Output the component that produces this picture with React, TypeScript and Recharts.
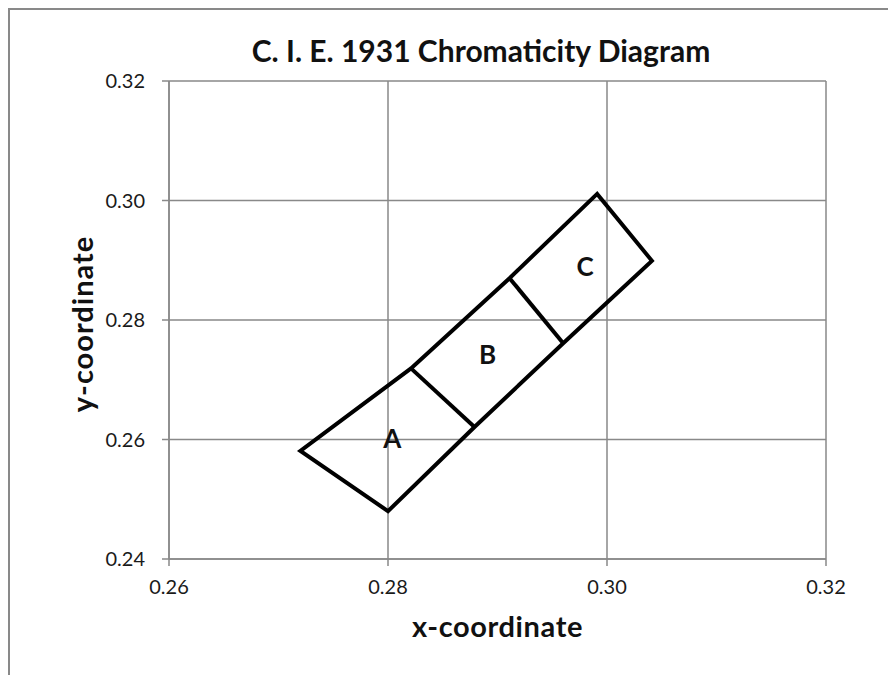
import React from 'react';
import { ScatterChart, Scatter, XAxis, YAxis, CartesianGrid, Label } from 'recharts';

// corner points of the A/B/C region outline (x, y chromaticity)
const outlineX = [0.2879, 0.28, 0.272, 0.2821, 0.2911, 0.2991, 0.3041, 0.296, 0.2879];
const outlineY = [0.2621, 0.248, 0.2581, 0.2719, 0.287, 0.3011, 0.2899, 0.2761, 0.2621];

// dividers between the bins
const dividerABX = [0.2821, 0.2879];
const dividerABY = [0.2719, 0.2621];
const dividerBCX = [0.2911, 0.296];
const dividerBCY = [0.287, 0.2761];

// bin labels
const binNames = ['A', 'B', 'C'];
const binX = [0.2804, 0.2891, 0.298];
const binY = [0.2601, 0.2742, 0.2889];

const xTicks = [0.26, 0.28, 0.3, 0.32];
const yTicks = [0.24, 0.26, 0.28, 0.3, 0.32];

const zip = (xs: number[], ys: number[]) => xs.map((x, i) => ({ x, y: ys[i] }));

const outline = zip(outlineX, outlineY);
const dividerAB = zip(dividerABX, dividerABY);
const dividerBC = zip(dividerBCX, dividerBCY);
const binLabels = binNames.map((label, i) => ({ x: binX[i], y: binY[i], label }));

const FONT = 'Lato, "Open Sans", sans-serif';
const GRID = '#898989';
const lineStyle = { stroke: '#000', strokeWidth: 4, strokeLinejoin: 'miter' as const };
const noDot = () => <g />;

const BinLabel = (props: any) => (
  <text
    x={props.cx}
    y={props.cy}
    dy="0.36em"
    textAnchor="middle"
    fontFamily={FONT}
    fontWeight="bold"
    fontSize={26}
    fill="#111"
  >
    {props.payload.label}
  </text>
);

const XTick = (props: any) => (
  <text x={props.x} y={props.y} dy="0.71em" textAnchor="middle" fontFamily={FONT} fontSize={20} fill="#1a1a1a">
    {props.payload.value.toFixed(2)}
  </text>
);

const YTick = (props: any) => (
  <text x={props.x} y={props.y} dy="0.36em" textAnchor="end" fontFamily={FONT} fontSize={20} fill="#1a1a1a">
    {props.payload.value.toFixed(2)}
  </text>
);

const XTitle = ({ viewBox }: any) => (
  <text
    x={viewBox.x + viewBox.width / 2}
    y={viewBox.y + 78}
    textAnchor="middle"
    fontFamily={FONT}
    fontWeight="bold"
    fontSize={29}
    letterSpacing={0.6}
    fill="#111"
  >
    x-coordinate
  </text>
);

const YTitle = ({ viewBox }: any) => (
  <text
    x={0}
    y={0}
    transform={`translate(83, ${viewBox.y + viewBox.height / 2 + 4}) rotate(-90)`}
    textAnchor="middle"
    fontFamily={FONT}
    fontWeight="bold"
    fontSize={29}
    letterSpacing={1}
    fill="#111"
  >
    y-coordinate
  </text>
);

export default function App() {
  return (
    <div
      style={{
        position: 'fixed',
        left: 8,
        top: 8,
        width: 900,
        height: 700,
        boxSizing: 'border-box',
        borderTop: `2px solid ${GRID}`,
        borderLeft: `2px solid ${GRID}`,
        background: '#fff',
        fontFamily: FONT,
      }}
    >
      <div
        style={{
          position: 'absolute',
          left: 0,
          width: 942,
          top: 25,
          textAlign: 'center',
          fontSize: 30,
          lineHeight: '30px',
          fontWeight: 'bold',
          color: '#111',
        }}
      >
        C. I. E. 1931 Chromaticity Diagram
      </div>
      <ScatterChart width={870} height={657} margin={{ top: 71, right: 54, bottom: 48, left: 79 }}>
        <CartesianGrid stroke={GRID} strokeWidth={1.5} horizontalValues={yTicks} verticalValues={xTicks} />
        <XAxis
          type="number"
          dataKey="x"
          domain={[0.26, 0.32]}
          ticks={xTicks}
          allowDataOverflow
          height={60}
          tickSize={7}
          tickMargin={14}
          tick={<XTick />}
          axisLine={{ stroke: GRID, strokeWidth: 1.5 }}
          tickLine={{ stroke: GRID, strokeWidth: 1.5 }}
        >
          <Label content={<XTitle />} />
        </XAxis>
        <YAxis
          type="number"
          dataKey="y"
          domain={[0.24, 0.32]}
          ticks={yTicks}
          allowDataOverflow
          width={80}
          tickSize={7}
          tickMargin={17}
          tick={<YTick />}
          axisLine={{ stroke: GRID, strokeWidth: 1.5 }}
          tickLine={{ stroke: GRID, strokeWidth: 1.5 }}
        >
          <Label content={<YTitle />} />
        </YAxis>
        <Scatter data={outline} line={lineStyle} lineJointType="linear" shape={noDot} isAnimationActive={false} />
        <Scatter data={dividerAB} line={lineStyle} lineJointType="linear" shape={noDot} isAnimationActive={false} />
        <Scatter data={dividerBC} line={lineStyle} lineJointType="linear" shape={noDot} isAnimationActive={false} />
        <Scatter data={binLabels} shape={BinLabel} isAnimationActive={false} />
      </ScatterChart>
    </div>
  );
}
